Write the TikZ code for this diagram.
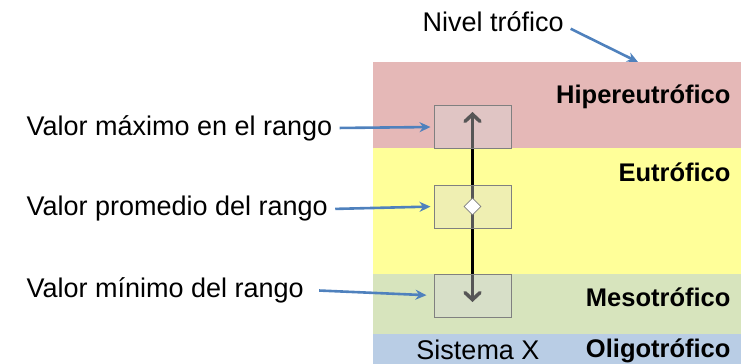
\documentclass[tikz,border=0pt]{standalone}
\usepackage{fontspec}
\setmainfont{Liberation Sans}
\usetikzlibrary{arrows.meta, shapes.geometric}
\definecolor{hiperColor}{HTML}{E5B8B7}
\definecolor{eutroColor}{HTML}{FFFF99}
\definecolor{mesoColor}{HTML}{D7E4BD}
\definecolor{oligoColor}{HTML}{B9CDE5}
\definecolor{pointerColor}{HTML}{4F81BD}

\begin{document}
\begin{tikzpicture}[x=1pt, y=-1pt]
\tikzset{BandLabel/.style = {anchor= east, font= \fontsize{25.5}{28}\selectfont\bfseries},
         NoteLabel/.style = {anchor= west, font= \fontsize{27}{30}\selectfont},
         RangeBox/.style = {draw= gray, line width= 1pt, fill= gray!30, fill opacity= 0.4,
                            minimum width= 77pt, minimum height= 43pt, inner sep= 0pt},
         Pointer/.style = {pointerColor, line width= 2.6pt, -{Stealth[length= 11pt, width= 10pt]}, shorten >= 3pt, shorten <= 4pt}
}
    \useasboundingbox (0,0) rectangle (748,364);

    % Draw bands
    \fill[hiperColor] (373,62) rectangle (741,148);
    \fill[eutroColor] (373,148) rectangle (741,274);
    \fill[mesoColor] (373,274) rectangle (741,334);
    \fill[oligoColor] (373,334) rectangle (741,364);
    \coordinate (bandtop) at (638,62);

    % Range line, then boxes over it
    \coordinate (maxc) at (472.5,127);
    \coordinate (promc) at (472.5,206.5);
    \coordinate (minc) at (472.5,295.5);
    \draw[line width= 3.5pt, {Straight Barb[length= 7pt, width= 15pt, line cap= round]}-{Straight Barb[length= 7pt, width= 15pt, line cap= round]}]
        ([yshift=15pt]maxc) -- ([yshift=-6.5pt]minc);
    \node[RangeBox] (max) at (maxc) {};
    \node[RangeBox] (prom) at (promc) {};
    \node[RangeBox] (min) at (minc) {};
    \node[diamond, draw= gray, fill= white, line width= 0.8pt, minimum width= 17pt, minimum height= 17pt, inner sep= 0pt] (mean) at (prom) {};

    % Band names
    \node[BandLabel] (hiper) at (734,97) {Hipereutrófico};
    \node[BandLabel] (eutro) at (734,172) {Eutrófico};
    \node[BandLabel] (meso) at (734,297) {Mesotrófico};
    \node[BandLabel] (oligo) at (734,351) {Oligotrófico};
    \node[font= \fontsize{27}{30}\selectfont] (sistema) at (478,350) {Sistema X};

    % Notes and pointers
    \node[NoteLabel] (nivel) at (419,22) {Nivel trófico};
    \node[NoteLabel] (maxlabel) at (23,128) {Valor máximo en el rango};
    \node[NoteLabel] (promlabel) at (23,209) {Valor promedio del rango};
    \node[NoteLabel] (minlabel) at (23,290) {Valor mínimo del rango};

    \draw[Pointer, shorten >= 0pt] ([yshift=-5pt]nivel.east) -- (bandtop);
    \draw[Pointer] (maxlabel.east) -- (max.west);
    \draw[Pointer] (promlabel.east) -- (prom.west);
    \draw[Pointer, shorten >= 7pt, shorten <= 12pt] (minlabel.east) -- (min.west);
\end{tikzpicture}
\end{document}
